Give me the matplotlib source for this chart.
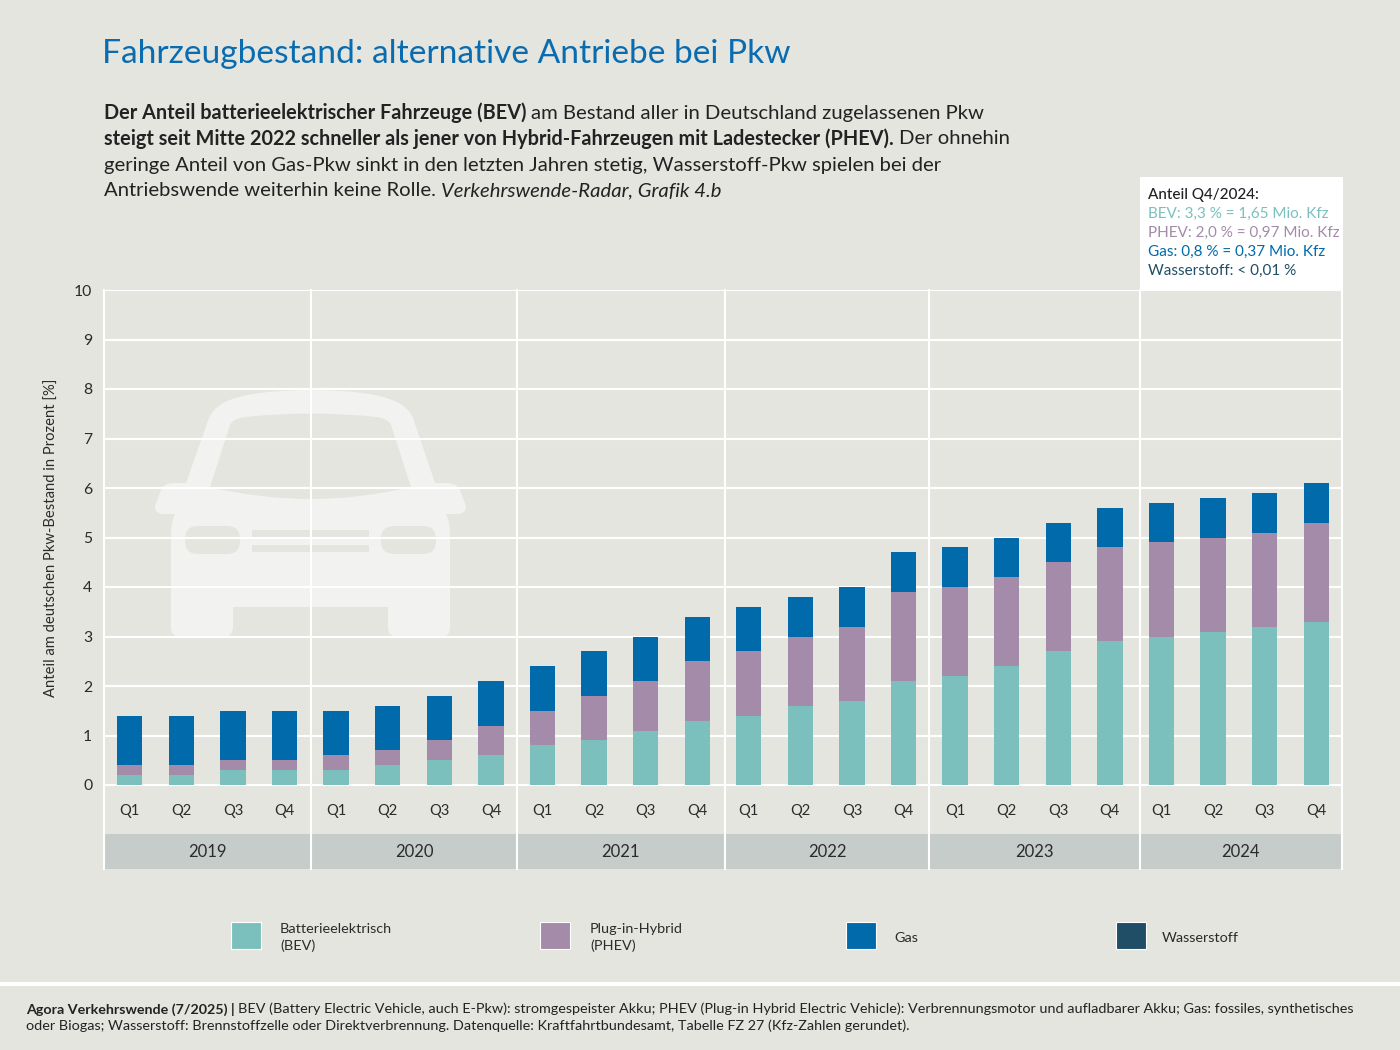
import matplotlib
matplotlib.use("Agg")
import matplotlib.pyplot as plt
import numpy as np
from matplotlib.patches import Rectangle, PathPatch, FancyBboxPatch
from matplotlib.path import Path

# Data
quarters = ["Q1", "Q2", "Q3", "Q4"] * 6
years = ["2019", "2020", "2021", "2022", "2023", "2024"]
bev = [0.2, 0.2, 0.3, 0.3, 0.3, 0.4, 0.5, 0.6, 0.8, 0.9, 1.1, 1.3,
       1.4, 1.6, 1.7, 2.1, 2.2, 2.4, 2.7, 2.9, 3.0, 3.1, 3.2, 3.3]
phev = [0.2, 0.2, 0.2, 0.2, 0.3, 0.3, 0.4, 0.6, 0.7, 0.9, 1.0, 1.2,
        1.3, 1.4, 1.5, 1.8, 1.8, 1.8, 1.8, 1.9, 1.9, 1.9, 1.9, 2.0]
gas = [1.0, 1.0, 1.0, 1.0, 0.9, 0.9, 0.9, 0.9, 0.9, 0.9, 0.9, 0.9,
       0.9, 0.8, 0.8, 0.8, 0.8, 0.8, 0.8, 0.8, 0.8, 0.8, 0.8, 0.8]
wasserstoff = [0.0] * 24

BG = "#e4e5df"
C_BEV = "#7cc0bd"
C_PHEV = "#a38ba9"
C_GAS = "#006aab"
C_H2 = "#1f4e66"
C_TEXT = "#2b2b2b"
C_CAR = "#f2f2f0"
FONT = "Lato"
W, H = 1400, 1050

plt.rcParams["font.family"] = FONT

fig = plt.figure(figsize=(14, 10.5), dpi=100, facecolor=BG)

# background layer in pixel coordinates (car icon, footer line)
bg = fig.add_axes([0, 0, 1, 1], zorder=0)
bg.set_xlim(0, W)
bg.set_ylim(H, 0)
bg.axis("off")

M, L, Q, C = Path.MOVETO, Path.LINETO, Path.CURVE3, Path.CLOSEPOLY
car = [
    (M, (186, 483)), (L, (209, 418)), (Q, (213, 408)), (Q, (225, 402)), (Q, (250, 390)), (Q, (311, 390)),
    (Q, (372, 390)), (Q, (397, 402)), (Q, (409, 408)), (Q, (413, 418)), (L, (435, 483)), (L, (448, 483)),
    (Q, (458, 484)), (Q, (460, 490)),
    (L, (466, 506)), (Q, (466, 514)), (Q, (458, 514)), (L, (446, 514)), (Q, (450, 522)), (Q, (450, 535)),
    (L, (450, 628)), (Q, (450, 637)), (Q, (440, 637)), (L, (398, 637)), (Q, (388, 637)), (Q, (388, 627)),
    (L, (388, 607)), (L, (233, 607)), (L, (233, 627)), (Q, (233, 637)), (Q, (223, 637)), (L, (181, 637)),
    (Q, (171, 637)), (Q, (171, 628)), (L, (171, 535)), (Q, (171, 522)), (Q, (175, 514)), (L, (163, 514)),
    (Q, (155, 514)), (Q, (155, 506)), (L, (161, 490)), (Q, (163, 484)), (Q, (173, 483)), (L, (186, 483)),
]
bg.add_patch(PathPatch(Path([p for _, p in car], [c for c, _ in car]), fc=C_CAR, ec="none"))
glass = [
    (M, (210, 487)), (L, (230, 425)), (Q, (232, 419)), (Q, (245, 417)), (Q, (311, 410)), (Q, (377, 417)),
    (Q, (389, 419)), (Q, (391, 425)), (L, (411, 487)), (Q, (311, 511)), (Q, (210, 487)),
]
bg.add_patch(PathPatch(Path([p for _, p in glass], [c for c, _ in glass]), fc=BG, ec="none"))
for x0 in (185, 381):
    bg.add_patch(FancyBboxPatch((x0 + 13, 526 + 13), 55 - 26, 2, boxstyle="round,pad=13", fc=BG, ec="none"))
bg.add_patch(Rectangle((252, 530), 117, 7, fc=BG, ec="none"))
bg.add_patch(Rectangle((252, 545), 117, 7, fc=BG, ec="none"))

# footer divider
bg.add_patch(Rectangle((0, 982), W, 4, fc="white", ec="none"))

# main chart
ax = fig.add_axes([104 / W, 1 - 785 / H, (1342 - 104) / W, (785 - 290) / H], zorder=1)
ax.patch.set_alpha(0)
x = np.arange(24)
bar_w = 0.49
ax.bar(x, bev, bar_w, color=C_BEV, zorder=3)
ax.bar(x, phev, bar_w, bottom=bev, color=C_PHEV, zorder=3)
base = np.array(bev) + np.array(phev)
ax.bar(x, gas, bar_w, bottom=base, color=C_GAS, zorder=3)
ax.bar(x, wasserstoff, bar_w, bottom=base + np.array(gas), color=C_H2, zorder=3)

ax.set_xlim(-0.5, 23.5)
ax.set_ylim(0, 10)
ax.set_yticks(range(11))
ax.set_xticks([])
ax.tick_params(axis="y", length=0, pad=8.5, labelsize=11.3, labelcolor=C_TEXT)
ax.grid(axis="y", color="white", lw=1.5, zorder=1)
ax.set_axisbelow(True)
for s in ax.spines.values():
    s.set_visible(False)
ax.axhline(0, color="white", lw=1.5, zorder=2, clip_on=False)

ax.set_ylabel("Anteil am deutschen Pkw-Bestand in Prozent [%]", fontsize=10.6, color=C_TEXT, labelpad=11)

# quarter labels, year bands and separators below the axis
trans = ax.get_xaxis_transform()
lower = (785 - 869) / (785 - 290)
band_top = (785 - 834) / (785 - 290)
seps = [-0.5, 3.52, 7.5, 11.53, 15.5, 19.58, 23.5]
for i, q in enumerate(quarters):
    ax.text(i, (785 - 811) / (785 - 290), q, transform=trans, ha="center", va="center", fontsize=10.6, color=C_TEXT)
for j, yr in enumerate(years):
    ax.add_patch(Rectangle((seps[j], lower), seps[j + 1] - seps[j], band_top - lower, transform=trans,
                           fc="#c6ccca", ec="none", clip_on=False, zorder=1))
    ax.text((seps[j] + seps[j + 1]) / 2, (785 - 852) / (785 - 290), yr, transform=trans, ha="center", va="center",
            fontsize=12, color=C_TEXT)
for sp in seps:
    ax.plot([sp, sp], [lower, 1], transform=trans, color="white", lw=1.5, clip_on=False, zorder=2)


def ftext(px, py, s, **kw):
    return fig.text(px / W, 1 - py / H, s, va="center", zorder=5, **kw)


# title
ftext(102, 54, "Fahrzeugbestand: alternative Antriebe bei Pkw", fontsize=24.1, color="#0a6cb0")

# intro paragraph with mixed weights
renderer = fig.canvas.get_renderer()


def runs(px, py, parts, size=14.55):
    for s, kw in parts:
        # bold runs sit slightly smaller than the regular ones
        fs = size * 0.983 if kw.get("fontweight") == "bold" else size
        t = ftext(px, py, s, fontsize=fs, color="#222222", **kw)
        px += t.get_window_extent(renderer).width


bold = {"fontweight": "bold"}
runs(104, 113, [("Der Anteil batterieelektrischer Fahrzeuge (BEV) ", bold),
                ("am Bestand aller in Deutschland zugelassenen Pkw", {})])
runs(104, 139, [("steigt seit Mitte 2022 schneller als jener von Hybrid-Fahrzeugen mit Ladestecker (PHEV). ", bold),
                ("Der ohnehin", {})])
runs(104, 165, [("geringe Anteil von Gas-Pkw sinkt in den letzten Jahren stetig, Wasserstoff-Pkw spielen bei der", {})])
runs(104, 191, [("Antriebswende weiterhin keine Rolle. ", {}),
                ("Verkehrswende-Radar, Grafik 4.b", {"fontstyle": "italic"})])

# white info box
fig.patches.append(Rectangle((1140 / W, 1 - 291 / H), 203 / W, 114 / H, transform=fig.transFigure,
                             fc="white", ec="none", zorder=4))
info = [("Anteil Q4/2024:", "#222222", True), ("BEV: 3,3 % = 1,65 Mio. Kfz", C_BEV, False),
        ("PHEV: 2,0 % = 0,97 Mio. Kfz", C_PHEV, False), ("Gas: 0,8 % = 0,37 Mio. Kfz", C_GAS, False),
        ("Wasserstoff: < 0,01 %", C_H2, False)]
for n, (s, col, b) in enumerate(info):
    ftext(1148.5, 195.5 + n * 18.75, s, fontsize=10.95, color=col, fontweight="medium" if b else "normal")

# legend
legend = [(231, C_BEV, 280, "Batterieelektrisch\n(BEV)"), (540, C_PHEV, 590, "Plug-in-Hybrid\n(PHEV)"),
          (846, C_GAS, 894, "Gas"), (1116, C_H2, 1162, "Wasserstoff")]
for sx, col, tx, label in legend:
    bg.add_patch(Rectangle((sx, 922), 30, 27, fc=col, ec="white", lw=0.8))
    ftext(tx, 937.5, label, fontsize=10.4, color=C_TEXT, linespacing=1.35)

# footer
runs(26, 1009, [("Agora Verkehrswende (7/2025) | ", bold),
                ("BEV (Battery Electric Vehicle, auch E-Pkw): stromgespeister Akku; PHEV (Plug-in Hybrid Electric Vehicle): "
                 "Verbrennungsmotor und aufladbarer Akku; Gas: fossiles, synthetisches", {})], size=10.4)
runs(26, 1026, [("oder Biogas; Wasserstoff: Brennstoffzelle oder Direktverbrennung. Datenquelle: Kraftfahrtbundesamt, "
                 "Tabelle FZ 27 (Kfz-Zahlen gerundet).", {})], size=10.4)

fig.savefig("out.png", dpi=100, facecolor=BG)
